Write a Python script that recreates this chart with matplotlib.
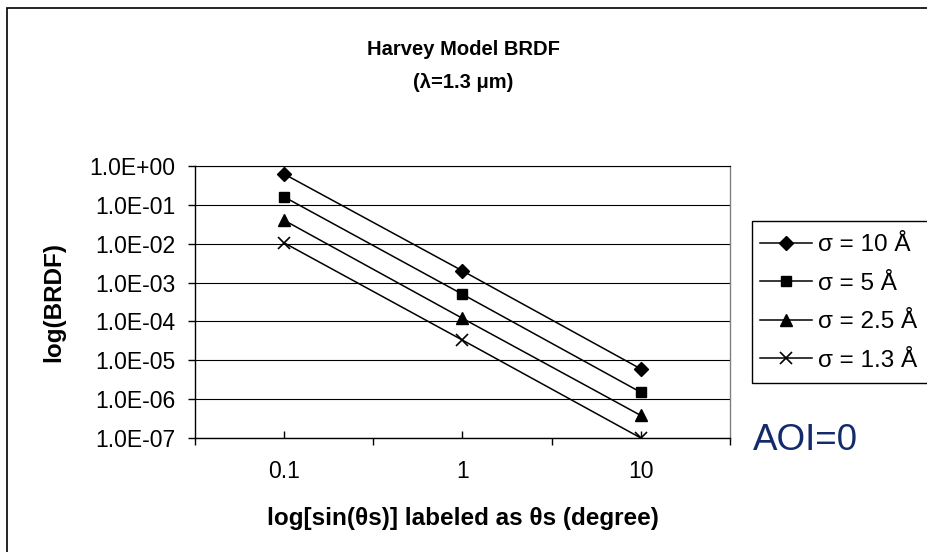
import matplotlib
matplotlib.use("Agg")
import matplotlib.pyplot as plt
from matplotlib.patches import Rectangle
from matplotlib.ticker import FixedLocator, FixedFormatter, NullLocator
from matplotlib import font_manager

plt.rcParams['font.family'] = ['Liberation Sans', 'DejaVu Sans']

# ---- data ----
angles = ["0.1", "1", "10"]
sigma_10 = [0.62, 2.0e-3, 6.0e-6]
sigma_5 = [0.16, 5.0e-4, 1.5e-6]
sigma_2_5 = [0.040, 1.2e-4, 3.8e-7]
sigma_1_3 = [0.0105, 3.3e-5, 1.0e-7]
series_labels = ["σ = 10 Å", "σ = 5 Å", "σ = 2.5 Å", "σ = 1.3 Å"]
ytick_values = [1e0, 1e-1, 1e-2, 1e-3, 1e-4, 1e-5, 1e-6, 1e-7]
ytick_labels = ["1.0E+00", "1.0E-01", "1.0E-02", "1.0E-03",
                "1.0E-04", "1.0E-05", "1.0E-06", "1.0E-07"]

W, H = 927, 552
fig = plt.figure(figsize=(W / 100, H / 100), dpi=100)
fig.patch.set_facecolor('white')

def fx(px):
    return px / W

def fy(py):
    return 1 - py / H

# narrow font for the title if available
available = {f.name for f in font_manager.fontManager.ttflist}
if 'Liberation Sans Narrow' in available:
    title_family = ['Liberation Sans Narrow', 'DejaVu Sans']
    title_size = 17.5
else:
    title_family = ['Liberation Sans', 'DejaVu Sans']
    title_size = 14.5

# plot area in pixels
L, R, T, B = 195, 730, 166, 438
ax = fig.add_axes([fx(L), fy(B), (R - L) / W, (B - T) / H])
ax.set_facecolor('white')

xs = list(range(len(angles)))
styles = [
    dict(marker='D', ms=6.8),
    dict(marker='s', ms=7.2),
    dict(marker='^', ms=8.2),
    dict(marker='x', ms=8.5, mew=1.2),
]
handles = []
for vals, lab, st in zip([sigma_10, sigma_5, sigma_2_5, sigma_1_3], series_labels, styles):
    h, = ax.plot(xs, vals, color='black', lw=1.1, mfc='black', mec='black',
                 label=lab, zorder=3, **st)
    handles.append(h)

ax.set_yscale('log')
ax.set_ylim(1e-7, 1e0)
ax.set_xlim(-0.5, len(angles) - 0.5)

ax.yaxis.set_major_locator(FixedLocator(ytick_values))
ax.yaxis.set_major_formatter(FixedFormatter(ytick_labels))
ax.yaxis.set_minor_locator(NullLocator())
ax.tick_params(axis='y', which='major', direction='out', length=5, width=1,
               labelsize=16.5, pad=9, colors='black')
ax.yaxis.grid(True, which='major', color='black', lw=0.8)

# x: boundaries as major ticks (out), categories as minor ticks (in) with labels
ax.set_xticks([i - 0.5 for i in range(len(angles) + 1)])
ax.set_xticklabels([''] * (len(angles) + 1))
ax.set_xticks(xs, minor=True)
ax.set_xticklabels(angles, minor=True)
ax.tick_params(axis='x', which='major', direction='out', length=5, width=1)
ax.tick_params(axis='x', which='minor', direction='in', length=5, width=1,
               labelsize=16.5, pad=16)

for s in ['left', 'bottom', 'top']:
    ax.spines[s].set_color('black')
    ax.spines[s].set_linewidth(1.0)
ax.spines['top'].set_linewidth(0.8)
ax.spines['right'].set_color('#808080')
ax.spines['right'].set_linewidth(1.0)

# titles and labels
fig.text(fx(463), fy(49), "Harvey Model BRDF", ha='center', va='center',
         fontsize=title_size, fontweight='bold', family=title_family)
fig.text(fx(463), fy(83), "(λ=1.3 μm)", ha='center', va='center',
         fontsize=title_size, fontweight='bold', family=title_family)
fig.text(fx(463), fy(519), "log[sin(θs)] labeled as θs (degree)", ha='center',
         va='center', fontsize=17.5, fontweight='bold')
fig.text(fx(54), fy(302), "log(BRDF)", ha='center', va='center', rotation=90,
         fontsize=17.5, fontweight='bold')
fig.text(fx(753), fy(441), "AOI=0", ha='left', va='center', fontsize=26.5,
         color='#142B6B')

# legend box (extends past the right edge as in the reference)
fig.patches.append(Rectangle((fx(752), fy(383)), (945 - 752) / W, (383 - 221) / H,
                             transform=fig.transFigure, fill=True, facecolor='white',
                             edgecolor='black', lw=1.0, zorder=1))
leg = fig.legend(handles=handles, loc='upper left',
                 bbox_to_anchor=(fx(760), fy(234)), bbox_transform=fig.transFigure,
                 fontsize=17.5, frameon=False,
                 borderpad=0.0, labelspacing=0.68, handlelength=2.15,
                 handletextpad=0.25, borderaxespad=0.0)
leg.set_zorder(5)

# outer chart border
fig.patches.append(Rectangle((fx(7), -0.1), 2, fy(8) + 0.1, transform=fig.transFigure,
                             fill=False, edgecolor='black', lw=1.2, zorder=0))

fig.savefig("out.png", dpi=100)
